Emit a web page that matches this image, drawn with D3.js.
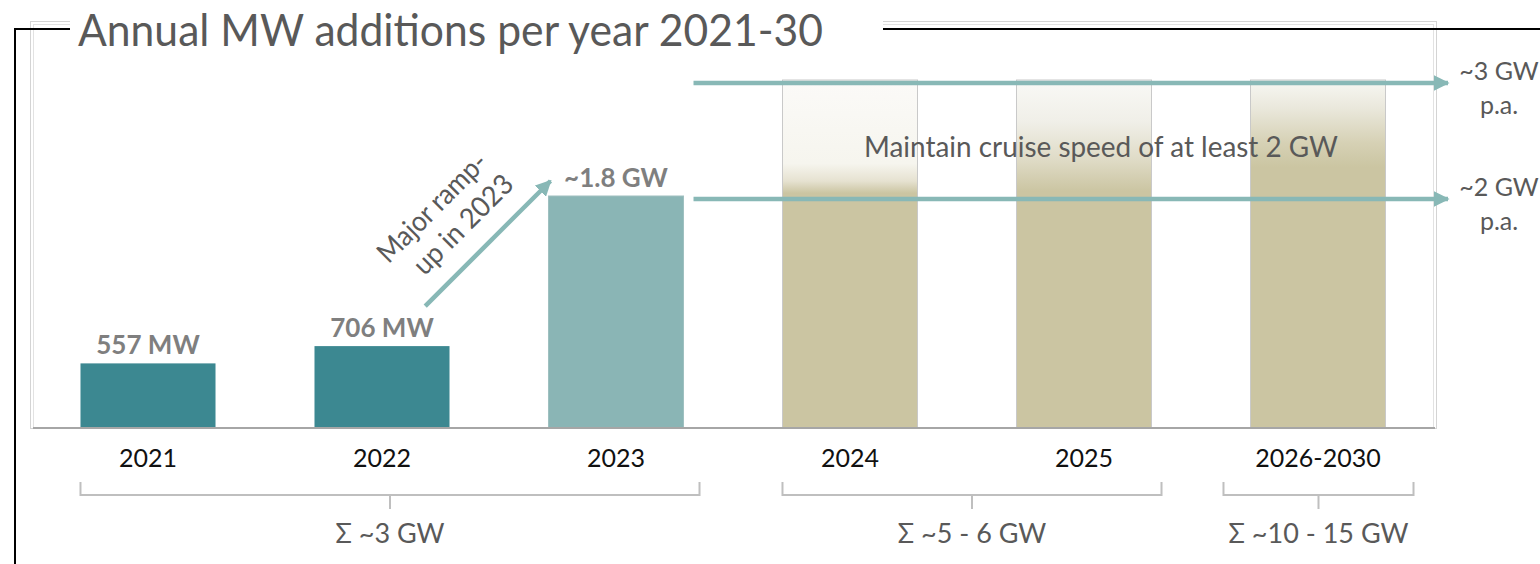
<!DOCTYPE html>
<html>
<head>
<meta charset="utf-8">
<script src="https://cdn.jsdelivr.net/npm/d3@7"></script>
<style>
  html, body { margin: 0; padding: 0; background: #fff; }
  svg { display: block; font-family: Lato, "Open Sans", sans-serif; }
</style>
</head>
<body>
<svg id="chart" width="1540" height="564"></svg>
<script>
// ---- data ----
const categories = ["2021", "2022", "2023", "2024", "2025", "2026-2030"];
const barValues = [557, 706, 2000, 3000, 3000, 3000];      // MW, as drawn
const barLabels = ["557 MW", "706 MW", "~1.8 GW", "", "", ""];
const barKinds = ["actual", "actual", "ramp", "target", "target", "target"];
const targetLevels = [3000, 2000];
const targetLabels = [["~3 GW", "p.a."], ["~2 GW", "p.a."]];
const groupNames = ["Σ ~3 GW", "Σ ~5 - 6 GW", "Σ ~10 - 15 GW"];
const groupSpans = [["2021", "2023"], ["2024", "2025"], ["2026-2030", "2026-2030"]];
const titleText = "Annual MW additions per year 2021-30";
const cruiseText = "Maintain cruise speed of at least 2 GW";
const rampText = ["Major ramp-", "up in 2023"];

// ---- setup ----
const svg = d3.select("#chart");
const W = 1540, H = 564;
const plot = { left: 31, right: 1435, top: 23, bottom: 428 };

const x = d3.scaleBand().domain(categories).range([plot.left, plot.right])
  .paddingInner(0.423).paddingOuter(0.2115);
const y = d3.scaleLinear().domain([0, 3000]).range([plot.bottom, 80]);
const bw = x.bandwidth();

const colActual = "#3C8891", colRamp = "#8AB5B5", colTan = "#CBC5A2",
      colArrow = "#88B8B6", colText = "#595959", colLabel = "#7F7F7F";

const defs = svg.append("defs");
defs.append("marker").attr("id", "ah").attr("viewBox", "0 0 10 10")
  .attr("refX", 9).attr("refY", 5).attr("markerUnits", "userSpaceOnUse")
  .attr("markerWidth", 16).attr("markerHeight", 16).attr("orient", "auto")
  .append("path").attr("d", "M0,0 L10,5 L0,10 Z").attr("fill", colArrow);

const gradStops = [
  [[0, "#FBFAF8"], [0.24, "#F6F5EE"], [0.29, "#E6E2D1"], [0.325, colTan]],
  [[0, "#F9F9F6"], [0.12, "#F0EFE8"], [0.23, "#DFDBC6"], [0.32, colTan]],
  [[0, "#F7F7F3"], [0.08, "#EAE8DC"], [0.18, "#D6D1B5"], [0.25, colTan]]
];
gradStops.forEach((stops, i) => {
  const g = defs.append("linearGradient").attr("id", "tg" + i)
    .attr("x1", 0).attr("y1", 0).attr("x2", 0).attr("y2", 1);
  stops.forEach(s => g.append("stop").attr("offset", s[0]).attr("stop-color", s[1]));
});

// ---- plot frame (double light-gray) ----
svg.append("rect").attr("x", 30.5).attr("y", 21.5).attr("width", 1406).attr("height", 407)
  .attr("fill", "none").attr("stroke", "#D4D4D4").attr("stroke-width", 1);
svg.append("rect").attr("x", 33.5).attr("y", 24.5).attr("width", 1400).attr("height", 403)
  .attr("fill", "none").attr("stroke", "#E2E2E2").attr("stroke-width", 1);

// ---- outer black frame ----
svg.append("line").attr("x1", 15).attr("x2", 15).attr("y1", 28).attr("y2", H)
  .attr("stroke", "#000").attr("stroke-width", 2);
svg.append("line").attr("x1", 14).attr("x2", W).attr("y1", 29).attr("y2", 29)
  .attr("stroke", "#000").attr("stroke-width", 2);

// ---- bars ----
let ti = 0;
const barG = svg.append("g");
categories.forEach((c, i) => {
  const k = barKinds[i];
  const fill = k === "actual" ? colActual : k === "ramp" ? colRamp : `url(#tg${ti++})`;
  barG.append("rect")
    .attr("x", x(c)).attr("y", y(barValues[i]))
    .attr("width", bw).attr("height", y(0) - y(barValues[i]))
    .attr("fill", fill)
    .attr("stroke", k === "actual" ? "none" : (k === "ramp" ? "#9FC0C0" : "#C9C9C9"))
    .attr("stroke-width", 1);
});

// axis baseline
svg.append("line").attr("x1", 33).attr("x2", 1435).attr("y1", plot.bottom).attr("y2", plot.bottom)
  .attr("stroke", "#A6A6A6").attr("stroke-width", 2);

// value labels
categories.forEach((c, i) => {
  if (!barLabels[i]) return;
  svg.append("text").attr("x", x(c) + bw / 2).attr("y", y(barValues[i]) - 9)
    .attr("text-anchor", "middle").attr("font-size", 26).attr("font-weight", 700)
    .attr("fill", colLabel).text(barLabels[i]);
});

// category labels (axis)
const xAxis = d3.axisBottom(x).tickSize(0).tickPadding(0);
const axG = svg.append("g").attr("transform", `translate(0,${plot.bottom})`).call(xAxis);
axG.select(".domain").remove();
axG.selectAll("text").attr("font-size", 25).attr("font-family", "Lato, sans-serif")
  .attr("fill", "#111").attr("dy", 0).attr("y", 39);

// ---- horizontal target arrows ----
targetLevels.forEach((v, i) => {
  svg.append("line")
    .attr("x1", x("2023") + bw + 10).attr("x2", 1448)
    .attr("y1", y(v) + 3).attr("y2", y(v) + 3)
    .attr("stroke", colArrow).attr("stroke-width", 4.5).attr("marker-end", "url(#ah)");
  targetLabels[i].forEach((t, j) => {
    svg.append("text").attr("x", 1499).attr("y", y(v) + j * 34)
      .attr("text-anchor", "middle").attr("font-size", 25).attr("fill", colText).text(t);
  });
});

// cruise text
svg.append("text").attr("x", x("2025") + bw / 2 + 17)
  .attr("y", (y(targetLevels[0]) + y(targetLevels[1])) / 2 + 19)
  .attr("text-anchor", "middle").attr("font-size", 29).attr("fill", colText)
  .attr("textLength", 474).attr("lengthAdjust", "spacingAndGlyphs").text(cruiseText);

// ---- diagonal ramp arrow ----
const x0 = x("2022") + bw * 0.82, y0 = y(706) - 40;
const x1 = x("2023") + 2, y1 = y(2000) - 15;
svg.append("line").attr("x1", x0).attr("y1", y0).attr("x2", x1).attr("y2", y1)
  .attr("stroke", colArrow).attr("stroke-width", 4.5).attr("marker-end", "url(#ah)");
const ang = Math.atan2(y1 - y0, x1 - x0) * 180 / Math.PI;
const rg = svg.append("g").attr("transform", `translate(448,215) rotate(${ang})`);
rampText.forEach((t, j) => {
  rg.append("text").attr("x", j === 0 ? -6 : 4).attr("y", (j - 0.5) * 34 + 10)
    .attr("text-anchor", "middle").attr("font-size", 28).attr("fill", colText)
    .attr("textLength", j === 0 ? 142 : 128).attr("lengthAdjust", "spacingAndGlyphs").text(t);
});

// ---- group brackets ----
const pads = [[0, 16], [0, 10], [-27, 28]];
groupSpans.forEach((s, i) => {
  const a = x(s[0]) + pads[i][0], b = x(s[1]) + bw + pads[i][1], m = (a + b) / 2;
  const g = svg.append("g").attr("stroke", "#BFBFBF").attr("stroke-width", 2).attr("fill", "none");
  g.append("path").attr("d", `M${a},482 V495 H${b} V482`);
  g.append("line").attr("x1", m).attr("x2", m).attr("y1", 495).attr("y2", 509);
  svg.append("text").attr("x", m).attr("y", 543).attr("text-anchor", "middle")
    .attr("font-size", 27).attr("fill", colText).text(groupNames[i]);
});

// ---- title ----
svg.append("rect").attr("x", 70).attr("y", 0).attr("width", 813).attr("height", 40).attr("fill", "#fff");
svg.append("text").attr("x", 78).attr("y", 46).attr("font-size", 45)
  .attr("font-weight", 400).attr("fill", colText)
  .attr("textLength", 745).attr("lengthAdjust", "spacingAndGlyphs").text(titleText);
</script>
</body>
</html>
